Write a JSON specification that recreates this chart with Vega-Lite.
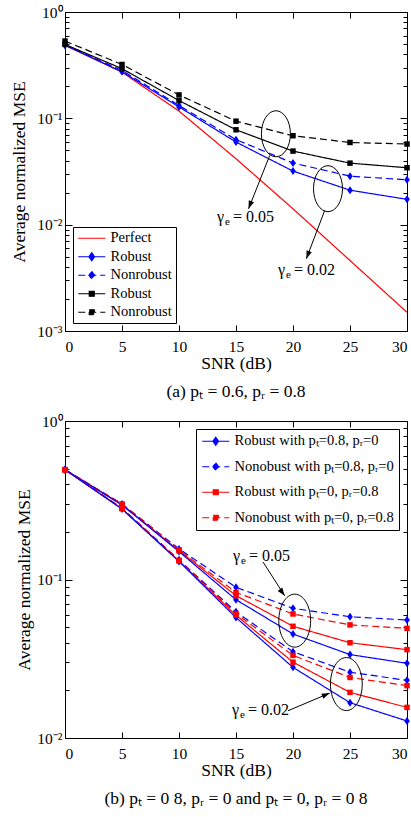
{
  "$schema": "https://vega.github.io/schema/vega-lite/v6.json",
  "background": "white",
  "padding": {"left": 10, "top": 4, "right": 0, "bottom": 0},
  "config": {
    "font": "Liberation Serif, Times New Roman, serif",
    "view": {"stroke": "black", "strokeWidth": 1},
    "axis": {"domainColor": "black", "tickColor": "black", "labelColor": "black", "titleColor": "black", "labelFont": "Liberation Serif, Times New Roman, serif", "titleFont": "Liberation Serif, Times New Roman, serif", "labelFontSize": 15.5, "titleFontSize": 17.5, "titleFontWeight": "normal", "grid": false, "labelOverlap": false},
    "legend": {"labelFont": "Liberation Serif, Times New Roman, serif", "labelFontSize": 14.5, "labelColor": "black", "strokeColor": "black", "fillColor": "white", "symbolStrokeWidth": 1.2},
    "title": {"font": "Liberation Serif, Times New Roman, serif", "fontSize": 17.5, "fontWeight": "normal", "color": "black"}
  },
  "datasets": {
    "a_lines": [
      {"snr": 0, "mse": 0.487, "series": "Perfect"},
      {"snr": 5, "mse": 0.272, "series": "Perfect"},
      {"snr": 10, "mse": 0.117, "series": "Perfect"},
      {"snr": 15, "mse": 0.0417, "series": "Perfect"},
      {"snr": 20, "mse": 0.0141, "series": "Perfect"},
      {"snr": 25, "mse": 0.0046, "series": "Perfect"},
      {"snr": 30, "mse": 0.0015, "series": "Perfect"},
      {"snr": 0, "mse": 0.487, "series": "Robust, γe=0.02"},
      {"snr": 5, "mse": 0.274, "series": "Robust, γe=0.02"},
      {"snr": 10, "mse": 0.128, "series": "Robust, γe=0.02"},
      {"snr": 15, "mse": 0.0598, "series": "Robust, γe=0.02"},
      {"snr": 20, "mse": 0.0319, "series": "Robust, γe=0.02"},
      {"snr": 25, "mse": 0.0211, "series": "Robust, γe=0.02"},
      {"snr": 30, "mse": 0.0173, "series": "Robust, γe=0.02"},
      {"snr": 0, "mse": 0.49, "series": "Nonrobust, γe=0.02"},
      {"snr": 5, "mse": 0.282, "series": "Nonrobust, γe=0.02"},
      {"snr": 10, "mse": 0.132, "series": "Nonrobust, γe=0.02"},
      {"snr": 15, "mse": 0.063, "series": "Nonrobust, γe=0.02"},
      {"snr": 20, "mse": 0.038, "series": "Nonrobust, γe=0.02"},
      {"snr": 25, "mse": 0.0286, "series": "Nonrobust, γe=0.02"},
      {"snr": 30, "mse": 0.0264, "series": "Nonrobust, γe=0.02"},
      {"snr": 0, "mse": 0.496, "series": "Robust, γe=0.05"},
      {"snr": 5, "mse": 0.293, "series": "Robust, γe=0.05"},
      {"snr": 10, "mse": 0.147, "series": "Robust, γe=0.05"},
      {"snr": 15, "mse": 0.078, "series": "Robust, γe=0.05"},
      {"snr": 20, "mse": 0.0492, "series": "Robust, γe=0.05"},
      {"snr": 25, "mse": 0.0379, "series": "Robust, γe=0.05"},
      {"snr": 30, "mse": 0.0343, "series": "Robust, γe=0.05"},
      {"snr": 0, "mse": 0.533, "series": "Nonrobust, γe=0.05"},
      {"snr": 5, "mse": 0.321, "series": "Nonrobust, γe=0.05"},
      {"snr": 10, "mse": 0.166, "series": "Nonrobust, γe=0.05"},
      {"snr": 15, "mse": 0.094, "series": "Nonrobust, γe=0.05"},
      {"snr": 20, "mse": 0.0686, "series": "Nonrobust, γe=0.05"},
      {"snr": 25, "mse": 0.0593, "series": "Nonrobust, γe=0.05"},
      {"snr": 30, "mse": 0.0573, "series": "Nonrobust, γe=0.05"}
    ],
    "a_ell": [
      {"snr": 18.5, "mse": 0.0716},
      {"snr": 23.07, "mse": 0.0218}
    ],
    "a_arrows": [
      {"snr": 17.96, "mse": 0.0448, "snr2": 16.1, "mse2": 0.0141},
      {"snr": 22.78, "mse": 0.0136, "snr2": 21.17, "mse2": 0.00478}
    ],
    "a_text": [
      {"snr": 13.33, "mse": 0.01186, "sym": "γ", "sub": "e", "val": "= 0.05"},
      {"snr": 18.68, "mse": 0.00371, "sym": "γ", "sub": "e", "val": "= 0.02"}
    ],
    "b_lines": [
      {"snr": 0, "mse": 0.493, "gamma": "0.05", "series": "Nonobust with pₜ=0.8, pᵣ=0"},
      {"snr": 5, "mse": 0.300, "gamma": "0.05", "series": "Nonobust with pₜ=0.8, pᵣ=0"},
      {"snr": 10, "mse": 0.156, "gamma": "0.05", "series": "Nonobust with pₜ=0.8, pᵣ=0"},
      {"snr": 15, "mse": 0.0893, "gamma": "0.05", "series": "Nonobust with pₜ=0.8, pᵣ=0"},
      {"snr": 20, "mse": 0.0658, "gamma": "0.05", "series": "Nonobust with pₜ=0.8, pᵣ=0"},
      {"snr": 25, "mse": 0.0582, "gamma": "0.05", "series": "Nonobust with pₜ=0.8, pᵣ=0"},
      {"snr": 30, "mse": 0.0555, "gamma": "0.05", "series": "Nonobust with pₜ=0.8, pᵣ=0"},
      {"snr": 0, "mse": 0.493, "gamma": "0.05", "series": "Nonobust with pₜ=0, pᵣ=0.8"},
      {"snr": 5, "mse": 0.299, "gamma": "0.05", "series": "Nonobust with pₜ=0, pᵣ=0.8"},
      {"snr": 10, "mse": 0.154, "gamma": "0.05", "series": "Nonobust with pₜ=0, pᵣ=0.8"},
      {"snr": 15, "mse": 0.0830, "gamma": "0.05", "series": "Nonobust with pₜ=0, pᵣ=0.8"},
      {"snr": 20, "mse": 0.0606, "gamma": "0.05", "series": "Nonobust with pₜ=0, pᵣ=0.8"},
      {"snr": 25, "mse": 0.0517, "gamma": "0.05", "series": "Nonobust with pₜ=0, pᵣ=0.8"},
      {"snr": 30, "mse": 0.0492, "gamma": "0.05", "series": "Nonobust with pₜ=0, pᵣ=0.8"},
      {"snr": 0, "mse": 0.493, "gamma": "0.05", "series": "Robust with pₜ=0, pᵣ=0.8"},
      {"snr": 5, "mse": 0.297, "gamma": "0.05", "series": "Robust with pₜ=0, pᵣ=0.8"},
      {"snr": 10, "mse": 0.152, "gamma": "0.05", "series": "Robust with pₜ=0, pᵣ=0.8"},
      {"snr": 15, "mse": 0.0791, "gamma": "0.05", "series": "Robust with pₜ=0, pᵣ=0.8"},
      {"snr": 20, "mse": 0.0507, "gamma": "0.05", "series": "Robust with pₜ=0, pᵣ=0.8"},
      {"snr": 25, "mse": 0.0399, "gamma": "0.05", "series": "Robust with pₜ=0, pᵣ=0.8"},
      {"snr": 30, "mse": 0.0361, "gamma": "0.05", "series": "Robust with pₜ=0, pᵣ=0.8"},
      {"snr": 0, "mse": 0.493, "gamma": "0.05", "series": "Robust with pₜ=0.8, pᵣ=0"},
      {"snr": 5, "mse": 0.295, "gamma": "0.05", "series": "Robust with pₜ=0.8, pᵣ=0"},
      {"snr": 10, "mse": 0.150, "gamma": "0.05", "series": "Robust with pₜ=0.8, pᵣ=0"},
      {"snr": 15, "mse": 0.0746, "gamma": "0.05", "series": "Robust with pₜ=0.8, pᵣ=0"},
      {"snr": 20, "mse": 0.0453, "gamma": "0.05", "series": "Robust with pₜ=0.8, pᵣ=0"},
      {"snr": 25, "mse": 0.0336, "gamma": "0.05", "series": "Robust with pₜ=0.8, pᵣ=0"},
      {"snr": 30, "mse": 0.0296, "gamma": "0.05", "series": "Robust with pₜ=0.8, pᵣ=0"},
      {"snr": 0, "mse": 0.493, "gamma": "0.02", "series": "Nonobust with pₜ=0.8, pᵣ=0"},
      {"snr": 5, "mse": 0.282, "gamma": "0.02", "series": "Nonobust with pₜ=0.8, pᵣ=0"},
      {"snr": 10, "mse": 0.133, "gamma": "0.02", "series": "Nonobust with pₜ=0.8, pᵣ=0"},
      {"snr": 15, "mse": 0.0625, "gamma": "0.02", "series": "Nonobust with pₜ=0.8, pᵣ=0"},
      {"snr": 20, "mse": 0.0350, "gamma": "0.02", "series": "Nonobust with pₜ=0.8, pᵣ=0"},
      {"snr": 25, "mse": 0.0260, "gamma": "0.02", "series": "Nonobust with pₜ=0.8, pᵣ=0"},
      {"snr": 30, "mse": 0.0231, "gamma": "0.02", "series": "Nonobust with pₜ=0.8, pᵣ=0"},
      {"snr": 0, "mse": 0.493, "gamma": "0.02", "series": "Nonobust with pₜ=0, pᵣ=0.8"},
      {"snr": 5, "mse": 0.281, "gamma": "0.02", "series": "Nonobust with pₜ=0, pᵣ=0.8"},
      {"snr": 10, "mse": 0.132, "gamma": "0.02", "series": "Nonobust with pₜ=0, pᵣ=0.8"},
      {"snr": 15, "mse": 0.0610, "gamma": "0.02", "series": "Nonobust with pₜ=0, pᵣ=0.8"},
      {"snr": 20, "mse": 0.0332, "gamma": "0.02", "series": "Nonobust with pₜ=0, pᵣ=0.8"},
      {"snr": 25, "mse": 0.0241, "gamma": "0.02", "series": "Nonobust with pₜ=0, pᵣ=0.8"},
      {"snr": 30, "mse": 0.0214, "gamma": "0.02", "series": "Nonobust with pₜ=0, pᵣ=0.8"},
      {"snr": 0, "mse": 0.493, "gamma": "0.02", "series": "Robust with pₜ=0, pᵣ=0.8"},
      {"snr": 5, "mse": 0.280, "gamma": "0.02", "series": "Robust with pₜ=0, pᵣ=0.8"},
      {"snr": 10, "mse": 0.131, "gamma": "0.02", "series": "Robust with pₜ=0, pᵣ=0.8"},
      {"snr": 15, "mse": 0.0595, "gamma": "0.02", "series": "Robust with pₜ=0, pᵣ=0.8"},
      {"snr": 20, "mse": 0.0301, "gamma": "0.02", "series": "Robust with pₜ=0, pᵣ=0.8"},
      {"snr": 25, "mse": 0.0194, "gamma": "0.02", "series": "Robust with pₜ=0, pᵣ=0.8"},
      {"snr": 30, "mse": 0.0156, "gamma": "0.02", "series": "Robust with pₜ=0, pᵣ=0.8"},
      {"snr": 0, "mse": 0.493, "gamma": "0.02", "series": "Robust with pₜ=0.8, pᵣ=0"},
      {"snr": 5, "mse": 0.278, "gamma": "0.02", "series": "Robust with pₜ=0.8, pᵣ=0"},
      {"snr": 10, "mse": 0.130, "gamma": "0.02", "series": "Robust with pₜ=0.8, pᵣ=0"},
      {"snr": 15, "mse": 0.0575, "gamma": "0.02", "series": "Robust with pₜ=0.8, pᵣ=0"},
      {"snr": 20, "mse": 0.0279, "gamma": "0.02", "series": "Robust with pₜ=0.8, pᵣ=0"},
      {"snr": 25, "mse": 0.0167, "gamma": "0.02", "series": "Robust with pₜ=0.8, pᵣ=0"},
      {"snr": 30, "mse": 0.0128, "gamma": "0.02", "series": "Robust with pₜ=0.8, pᵣ=0"}
    ],
    "b_ell": [
      {"snr": 20.15, "mse": 0.055},
      {"snr": 24.68, "mse": 0.0219}
    ],
    "b_arrows": [
      {"id": "b1", "snr": 17.37, "mse": 0.129, "snr2": 19.27, "mse2": 0.079},
      {"id": "b2", "snr": 19.56, "mse": 0.01486, "snr2": 23.22, "mse2": 0.0192}
    ],
    "b_text": [
      {"snr": 14.74, "mse": 0.1413, "sym": "γ", "sub": "e", "val": "= 0.05"},
      {"snr": 14.65, "mse": 0.01502, "sym": "γ", "sub": "e", "val": "= 0.02"}
    ]
  },
  "vconcat": [
    {
      "width": 342,
      "height": 319,
      "title": {"text": "(a)  pₜ = 0.6, pᵣ = 0.8", "orient": "bottom", "offset": 11},
      "layer": [
        {
          "data": {"name": "a_lines"},
          "mark": {"type": "line", "strokeWidth": 1.2},
          "encoding": {
            "x": {"field": "snr", "type": "quantitative", "scale": {"domain": [0, 30], "nice": false},
              "axis": {"orient": "bottom", "title": "SNR (dB)", "values": [0, 5, 10, 15, 20, 25, 30], "tickSize": -6, "labelPadding": 14, "titlePadding": 0}},
            "y": {"field": "mse", "type": "quantitative", "scale": {"type": "log", "domain": [0.001, 1], "nice": false},
              "axis": {"orient": "left", "title": "Average normalized MSE", "values": [0.001, 0.002, 0.003, 0.004, 0.005, 0.006, 0.007, 0.008, 0.009, 0.01, 0.02, 0.03, 0.04, 0.05, 0.06, 0.07, 0.08, 0.09, 0.1, 0.2, 0.3, 0.4, 0.5, 0.6, 0.7, 0.8, 0.9, 1],
                "labelExpr": "datum.value == 1 ? '10⁰' : datum.value == 0.1 ? '10⁻¹' : datum.value == 0.01 ? '10⁻²' : datum.value == 0.001 ? '10⁻³' : ''",
                "tickSize": {"condition": {"test": "indexof([1, 0.1, 0.01, 0.001], datum.value) >= 0", "value": -7}, "value": -4},
                "labelPadding": 10, "titlePadding": 8}},
            "color": {"field": "series", "type": "nominal",
              "scale": {"domain": ["Perfect", "Robust, γe=0.02", "Nonrobust, γe=0.02", "Robust, γe=0.05", "Nonrobust, γe=0.05"], "range": ["#ff0000", "#0000ff", "#0000ff", "#000000", "#000000"]},
              "legend": {"title": null, "orient": "bottom-left", "offset": 8, "padding": 4, "rowPadding": 3.5, "symbolSize": 144, "labelOffset": 19,
                "labelExpr": "split(datum.label, ',')[0]",
                "encode": {"symbols": {"update": {
                  "shape": {"signal": "datum.value == 'Perfect' ? 'M-1,0L3.5,0' : indexof(datum.value, '0.02') >= 0 ? 'M-1,0L3.5,0M1.25,-0.667L1.717,0L1.25,0.667L0.783,0Z' : 'M-1,0L3.5,0M0.833,-0.417L1.667,-0.417L1.667,0.417L0.833,0.417Z'"},
                  "fill": {"signal": "datum.value == 'Perfect' ? 'transparent' : indexof(datum.value, '0.02') >= 0 ? '#0000ff' : '#000000'"}
                }}}}},
            "strokeDash": {"field": "series", "type": "nominal",
              "scale": {"domain": ["Perfect", "Robust, γe=0.02", "Nonrobust, γe=0.02", "Robust, γe=0.05", "Nonrobust, γe=0.05"], "range": [[1, 0], [1, 0], [7, 4], [1, 0], [7, 4]]},
              "legend": {"title": null, "orient": "bottom-left", "offset": 8, "padding": 4, "rowPadding": 3.5, "symbolSize": 144, "labelOffset": 19, "labelExpr": "split(datum.label, ',')[0]"}}
          }
        },
        {
          "data": {"name": "a_lines"},
          "transform": [{"filter": {"field": "series", "oneOf": ["Robust, γe=0.02", "Nonrobust, γe=0.02"]}}],
          "mark": {"type": "point", "shape": "M0,-1L0.7,0L0,1L-0.7,0Z", "size": 64, "filled": true, "color": "#0000ff", "opacity": 1},
          "encoding": {
            "x": {"field": "snr", "type": "quantitative", "scale": {"domain": [0, 30], "nice": false},
              "axis": {"orient": "top", "title": null, "labels": false, "values": [0, 5, 10, 15, 20, 25, 30], "tickSize": -6}},
            "y": {"field": "mse", "type": "quantitative", "scale": {"type": "log", "domain": [0.001, 1], "nice": false},
              "axis": {"orient": "right", "title": null, "labels": false, "values": [0.001, 0.002, 0.003, 0.004, 0.005, 0.006, 0.007, 0.008, 0.009, 0.01, 0.02, 0.03, 0.04, 0.05, 0.06, 0.07, 0.08, 0.09, 0.1, 0.2, 0.3, 0.4, 0.5, 0.6, 0.7, 0.8, 0.9, 1],
                "tickSize": {"condition": {"test": "indexof([1, 0.1, 0.01, 0.001], datum.value) >= 0", "value": -7}, "value": -4}}}
          }
        },
        {
          "data": {"name": "a_lines"},
          "transform": [{"filter": {"field": "series", "oneOf": ["Robust, γe=0.05", "Nonrobust, γe=0.05"]}}],
          "mark": {"type": "point", "shape": "square", "size": 30, "filled": true, "color": "#000000", "opacity": 1},
          "encoding": {
            "x": {"field": "snr", "type": "quantitative", "scale": {"domain": [0, 30], "nice": false}, "axis": null},
            "y": {"field": "mse", "type": "quantitative", "scale": {"type": "log", "domain": [0.001, 1], "nice": false}, "axis": null}
          }
        },
        {
          "data": {"name": "a_ell"},
          "mark": {"type": "point", "shape": "M0.63,0C0.63,0.5523 0.348,1 0,1C-0.348,1 -0.63,0.5523 -0.63,0C-0.63,-0.5523 -0.348,-1 0,-1C0.348,-1 0.63,-0.5523 0.63,0Z", "size": 2116, "filled": false, "stroke": "black", "strokeWidth": 1, "opacity": 1},
          "encoding": {
            "x": {"field": "snr", "type": "quantitative", "scale": {"domain": [0, 30], "nice": false}, "axis": null},
            "y": {"field": "mse", "type": "quantitative", "scale": {"type": "log", "domain": [0.001, 1], "nice": false}, "axis": null}
          }
        },
        {
          "data": {"name": "a_arrows"},
          "mark": {"type": "rule", "color": "black", "strokeWidth": 1},
          "encoding": {
            "x": {"field": "snr", "type": "quantitative", "scale": {"domain": [0, 30], "nice": false}, "axis": null},
            "y": {"field": "mse", "type": "quantitative", "scale": {"type": "log", "domain": [0.001, 1], "nice": false}, "axis": null},
            "x2": {"field": "snr2"},
            "y2": {"field": "mse2"}
          }
        },
        {
          "data": {"name": "a_arrows"},
          "mark": {"type": "point", "shape": "M0,0L-0.35,1L0.35,1Z", "size": 256, "filled": true, "color": "black", "angle": 201, "opacity": 1},
          "encoding": {
            "x": {"field": "snr2", "type": "quantitative", "scale": {"domain": [0, 30], "nice": false}, "axis": null},
            "y": {"field": "mse2", "type": "quantitative", "scale": {"type": "log", "domain": [0.001, 1], "nice": false}, "axis": null}
          }
        },
        {
          "data": {"name": "a_text"},
          "mark": {"type": "text", "align": "left", "baseline": "middle", "fontSize": 16, "color": "black"},
          "encoding": {
            "x": {"field": "snr", "type": "quantitative", "scale": {"domain": [0, 30], "nice": false}, "axis": null},
            "y": {"field": "mse", "type": "quantitative", "scale": {"type": "log", "domain": [0.001, 1], "nice": false}, "axis": null},
            "text": {"field": "sym"}
          }
        },
        {
          "data": {"name": "a_text"},
          "mark": {"type": "text", "align": "left", "baseline": "middle", "fontSize": 11, "color": "black", "dx": 8, "dy": 5},
          "encoding": {
            "x": {"field": "snr", "type": "quantitative", "scale": {"domain": [0, 30], "nice": false}, "axis": null},
            "y": {"field": "mse", "type": "quantitative", "scale": {"type": "log", "domain": [0.001, 1], "nice": false}, "axis": null},
            "text": {"field": "sub"}
          }
        },
        {
          "data": {"name": "a_text"},
          "mark": {"type": "text", "align": "left", "baseline": "middle", "fontSize": 16, "color": "black", "dx": 16},
          "encoding": {
            "x": {"field": "snr", "type": "quantitative", "scale": {"domain": [0, 30], "nice": false}, "axis": null},
            "y": {"field": "mse", "type": "quantitative", "scale": {"type": "log", "domain": [0.001, 1], "nice": false}, "axis": null},
            "text": {"field": "val"}
          }
        }
      ],
      "resolve": {"axis": {"x": "independent", "y": "independent"}}
    },
    {
      "width": 342,
      "height": 317,
      "title": {"text": "(b)  pₜ = 0 8, pᵣ = 0 and pₜ = 0, pᵣ = 0 8", "orient": "bottom", "offset": 11},
      "layer": [
        {
          "data": {"name": "b_lines"},
          "mark": {"type": "line", "strokeWidth": 1.2},
          "encoding": {
            "x": {"field": "snr", "type": "quantitative", "scale": {"domain": [0, 30], "nice": false},
              "axis": {"orient": "bottom", "title": "SNR (dB)", "values": [0, 5, 10, 15, 20, 25, 30], "tickSize": -6, "labelPadding": 14, "titlePadding": 0}},
            "y": {"field": "mse", "type": "quantitative", "scale": {"type": "log", "domain": [0.01, 1], "nice": false},
              "axis": {"orient": "left", "title": "Average normalized MSE", "values": [0.01, 0.02, 0.03, 0.04, 0.05, 0.06, 0.07, 0.08, 0.09, 0.1, 0.2, 0.3, 0.4, 0.5, 0.6, 0.7, 0.8, 0.9, 1],
                "labelExpr": "datum.value == 1 ? '10⁰' : datum.value == 0.1 ? '10⁻¹' : datum.value == 0.01 ? '10⁻²' : ''",
                "tickSize": {"condition": {"test": "indexof([1, 0.1, 0.01], datum.value) >= 0", "value": -7}, "value": -4},
                "labelPadding": 10, "titlePadding": 3}},
            "detail": {"field": "gamma"},
            "color": {"field": "series", "type": "nominal",
              "scale": {"domain": ["Robust with pₜ=0.8, pᵣ=0", "Nonobust with pₜ=0.8, pᵣ=0", "Robust with pₜ=0, pᵣ=0.8", "Nonobust with pₜ=0, pᵣ=0.8"], "range": ["#0000ff", "#0000ff", "#ff0000", "#ff0000"]},
              "legend": {"title": null, "orient": "top-right", "offset": 8, "padding": 5, "rowPadding": 10.5, "symbolSize": 144, "labelOffset": 19,
                "encode": {"symbols": {"update": {
                  "shape": {"signal": "indexof(datum.value, 'pₜ=0.8') >= 0 ? 'M-1,0L3.5,0M1.25,-0.667L1.717,0L1.25,0.667L0.783,0Z' : 'M-1,0L3.5,0M0.833,-0.417L1.667,-0.417L1.667,0.417L0.833,0.417Z'"},
                  "fill": {"signal": "indexof(datum.value, 'pₜ=0.8') >= 0 ? '#0000ff' : '#ff0000'"}
                }}}}},
            "strokeDash": {"field": "series", "type": "nominal",
              "scale": {"domain": ["Robust with pₜ=0.8, pᵣ=0", "Nonobust with pₜ=0.8, pᵣ=0", "Robust with pₜ=0, pᵣ=0.8", "Nonobust with pₜ=0, pᵣ=0.8"], "range": [[1, 0], [7, 4], [1, 0], [7, 4]]},
              "legend": {"title": null, "orient": "top-right", "offset": 8, "padding": 5, "rowPadding": 10.5, "symbolSize": 144, "labelOffset": 19}}
          }
        },
        {
          "data": {"name": "b_lines"},
          "transform": [{"filter": {"field": "series", "oneOf": ["Robust with pₜ=0.8, pᵣ=0", "Nonobust with pₜ=0.8, pᵣ=0"]}}],
          "mark": {"type": "point", "shape": "M0,-1L0.7,0L0,1L-0.7,0Z", "size": 64, "filled": true, "color": "#0000ff", "opacity": 1},
          "encoding": {
            "x": {"field": "snr", "type": "quantitative", "scale": {"domain": [0, 30], "nice": false},
              "axis": {"orient": "top", "title": null, "labels": false, "values": [0, 5, 10, 15, 20, 25, 30], "tickSize": -6}},
            "y": {"field": "mse", "type": "quantitative", "scale": {"type": "log", "domain": [0.01, 1], "nice": false},
              "axis": {"orient": "right", "title": null, "labels": false, "values": [0.01, 0.02, 0.03, 0.04, 0.05, 0.06, 0.07, 0.08, 0.09, 0.1, 0.2, 0.3, 0.4, 0.5, 0.6, 0.7, 0.8, 0.9, 1],
                "tickSize": {"condition": {"test": "indexof([1, 0.1, 0.01], datum.value) >= 0", "value": -7}, "value": -4}}}
          }
        },
        {
          "data": {"name": "b_lines"},
          "transform": [{"filter": {"field": "series", "oneOf": ["Robust with pₜ=0, pᵣ=0.8", "Nonobust with pₜ=0, pᵣ=0.8"]}}],
          "mark": {"type": "point", "shape": "square", "size": 30, "filled": true, "color": "#ff0000", "opacity": 1},
          "encoding": {
            "x": {"field": "snr", "type": "quantitative", "scale": {"domain": [0, 30], "nice": false}, "axis": null},
            "y": {"field": "mse", "type": "quantitative", "scale": {"type": "log", "domain": [0.01, 1], "nice": false}, "axis": null}
          }
        },
        {
          "data": {"name": "b_ell"},
          "mark": {"type": "point", "shape": "M0.6,0C0.6,0.5523 0.331,1 0,1C-0.331,1 -0.6,0.5523 -0.6,0C-0.6,-0.5523 -0.331,-1 0,-1C0.331,-1 0.6,-0.5523 0.6,0Z", "size": 2809, "filled": false, "stroke": "black", "strokeWidth": 1, "opacity": 1},
          "encoding": {
            "x": {"field": "snr", "type": "quantitative", "scale": {"domain": [0, 30], "nice": false}, "axis": null},
            "y": {"field": "mse", "type": "quantitative", "scale": {"type": "log", "domain": [0.01, 1], "nice": false}, "axis": null}
          }
        },
        {
          "data": {"name": "b_arrows"},
          "mark": {"type": "rule", "color": "black", "strokeWidth": 1},
          "encoding": {
            "x": {"field": "snr", "type": "quantitative", "scale": {"domain": [0, 30], "nice": false}, "axis": null},
            "y": {"field": "mse", "type": "quantitative", "scale": {"type": "log", "domain": [0.01, 1], "nice": false}, "axis": null},
            "x2": {"field": "snr2"},
            "y2": {"field": "mse2"}
          }
        },
        {
          "data": {"name": "b_arrows"},
          "transform": [{"filter": "datum.id == 'b1'"}],
          "mark": {"type": "point", "shape": "M0,0L-0.35,1L0.35,1Z", "size": 256, "filled": true, "color": "black", "angle": 144, "opacity": 1},
          "encoding": {
            "x": {"field": "snr2", "type": "quantitative", "scale": {"domain": [0, 30], "nice": false}, "axis": null},
            "y": {"field": "mse2", "type": "quantitative", "scale": {"type": "log", "domain": [0.01, 1], "nice": false}, "axis": null}
          }
        },
        {
          "data": {"name": "b_arrows"},
          "transform": [{"filter": "datum.id == 'b2'"}],
          "mark": {"type": "point", "shape": "M0,0L-0.35,1L0.35,1Z", "size": 256, "filled": true, "color": "black", "angle": 67, "opacity": 1},
          "encoding": {
            "x": {"field": "snr2", "type": "quantitative", "scale": {"domain": [0, 30], "nice": false}, "axis": null},
            "y": {"field": "mse2", "type": "quantitative", "scale": {"type": "log", "domain": [0.01, 1], "nice": false}, "axis": null}
          }
        },
        {
          "data": {"name": "b_text"},
          "mark": {"type": "text", "align": "left", "baseline": "middle", "fontSize": 16, "color": "black"},
          "encoding": {
            "x": {"field": "snr", "type": "quantitative", "scale": {"domain": [0, 30], "nice": false}, "axis": null},
            "y": {"field": "mse", "type": "quantitative", "scale": {"type": "log", "domain": [0.01, 1], "nice": false}, "axis": null},
            "text": {"field": "sym"}
          }
        },
        {
          "data": {"name": "b_text"},
          "mark": {"type": "text", "align": "left", "baseline": "middle", "fontSize": 11, "color": "black", "dx": 8, "dy": 5},
          "encoding": {
            "x": {"field": "snr", "type": "quantitative", "scale": {"domain": [0, 30], "nice": false}, "axis": null},
            "y": {"field": "mse", "type": "quantitative", "scale": {"type": "log", "domain": [0.01, 1], "nice": false}, "axis": null},
            "text": {"field": "sub"}
          }
        },
        {
          "data": {"name": "b_text"},
          "mark": {"type": "text", "align": "left", "baseline": "middle", "fontSize": 16, "color": "black", "dx": 16},
          "encoding": {
            "x": {"field": "snr", "type": "quantitative", "scale": {"domain": [0, 30], "nice": false}, "axis": null},
            "y": {"field": "mse", "type": "quantitative", "scale": {"type": "log", "domain": [0.01, 1], "nice": false}, "axis": null},
            "text": {"field": "val"}
          }
        }
      ],
      "resolve": {"axis": {"x": "independent", "y": "independent"}}
    }
  ],
  "spacing": 12,
  "align": "none",
  "resolve": {"scale": {"color": "independent", "strokeDash": "independent", "x": "independent", "y": "independent"}, "legend": {"color": "independent", "strokeDash": "independent"}}
}
